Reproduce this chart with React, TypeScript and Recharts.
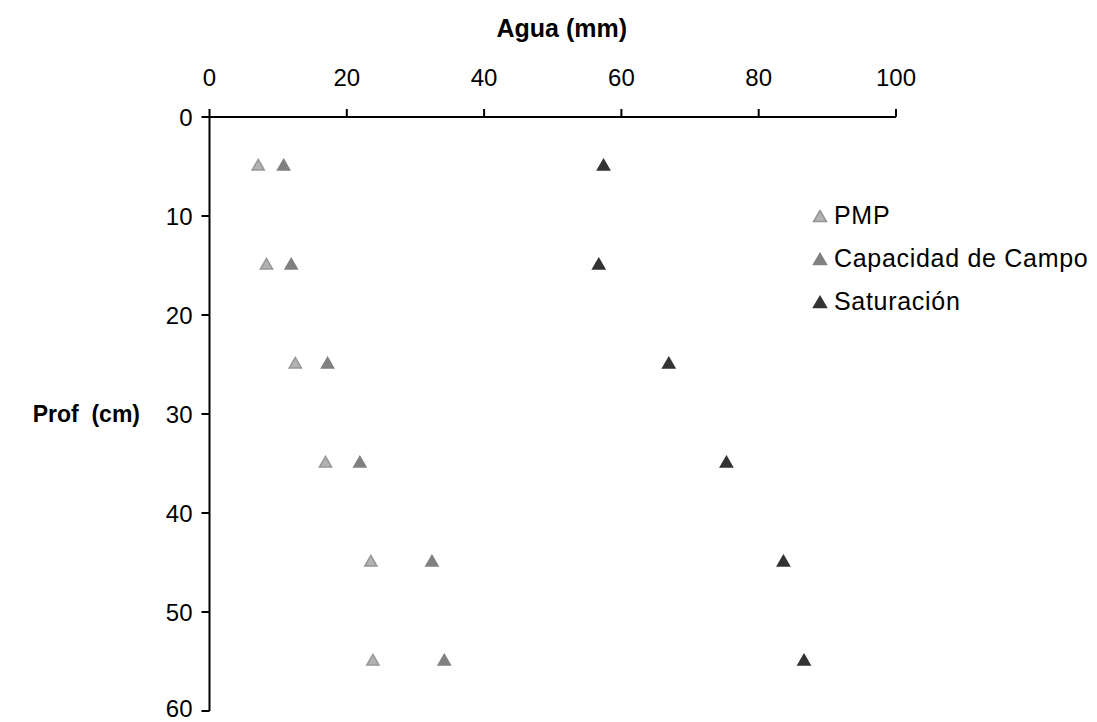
import React from 'react';
import { ScatterChart, Scatter, XAxis, YAxis, ZAxis, Legend } from 'recharts';

const depthCm = [5, 15, 25, 35, 45, 55];
const pmp = [7.1, 8.3, 12.5, 16.9, 23.5, 23.8];
const capacidadCampo = [10.8, 11.9, 17.2, 21.9, 32.4, 34.2];
const saturacion = [57.4, 56.7, 66.9, 75.3, 83.6, 86.6];

const xTicks = [0, 20, 40, 60, 80, 100];
const yTicks = [0, 10, 20, 30, 40, 50, 60];

const toPoints = (vals: number[]) => vals.map((v, i) => ({ agua: v, prof: depthCm[i] }));

const series = [
  { name: 'PMP', data: toPoints(pmp), fill: '#b2b2b2', stroke: '#969696' },
  { name: 'Capacidad de Campo', data: toPoints(capacidadCampo), fill: '#808080', stroke: '#808080' },
  { name: 'Saturación', data: toPoints(saturacion), fill: '#333333', stroke: '#333333' },
];

const FONT = 'Arial, "Liberation Sans", sans-serif';

const LegendBox = () => (
  <div style={{ fontFamily: FONT, fontSize: 25, letterSpacing: 0.7, color: '#000' }}>
    {series.map((s) => (
      <div key={s.name} style={{ display: 'flex', alignItems: 'center', height: 43 }}>
        <svg width={16} height={14} style={{ marginRight: 6 }}>
          <polygon points="8,1.5 14.5,12.5 1.5,12.5" fill={s.fill} stroke={s.stroke} strokeWidth={1.5} />
        </svg>
        <span>{s.name}</span>
      </div>
    ))}
  </div>
);

export default function App() {
  return (
    <ScatterChart
      width={1089}
      height={714}
      margin={{ top: 69, right: 201, bottom: 11, left: 141.5 }}
      style={{ fontFamily: FONT }}
    >
      <XAxis
        xAxisId={0}
        type="number"
        dataKey="agua"
        orientation="top"
        domain={[0, 100]}
        ticks={xTicks}
        height={40}
        axisLine={{ stroke: '#000', strokeWidth: 2 }}
        tickLine={{ stroke: '#000', strokeWidth: 2 }}
        tickSize={8}
        tickMargin={23}
        tick={{ fill: '#000', fontSize: 24 }}
        label={{ value: 'Agua (mm)', position: 'top', offset: 40, dx: 9, fill: '#000', fontSize: 25, fontWeight: 'bold' }}
      />
      <YAxis
        yAxisId={0}
        type="number"
        dataKey="prof"
        reversed
        domain={[0, 60]}
        ticks={yTicks}
        width={60}
        axisLine={{ stroke: '#000', strokeWidth: 2 }}
        tickLine={{ stroke: '#000', strokeWidth: 2 }}
        tickSize={8}
        tickMargin={9}
        tick={{ fill: '#000', fontSize: 24 }}
        label={{ value: 'Prof\u00a0 (cm)', position: 'left', offset: 9.5, fill: '#000', fontSize: 23, fontWeight: 'bold' }}
      />
      <ZAxis range={[100, 100]} />
      <Legend
        layout="horizontal"
        verticalAlign="middle"
        align="center"
        content={() => <LegendBox />}
        wrapperStyle={{ left: 804, top: 186, width: 290 }}
      />
      {series.map((s) => (
        <Scatter
          key={s.name}
          name={s.name}
          data={s.data}
          shape="triangle"
          fill={s.fill}
          stroke={s.stroke}
          strokeWidth={1.5}
          legendType="triangle"
          isAnimationActive={false}
        />
      ))}
    </ScatterChart>
  );
}
